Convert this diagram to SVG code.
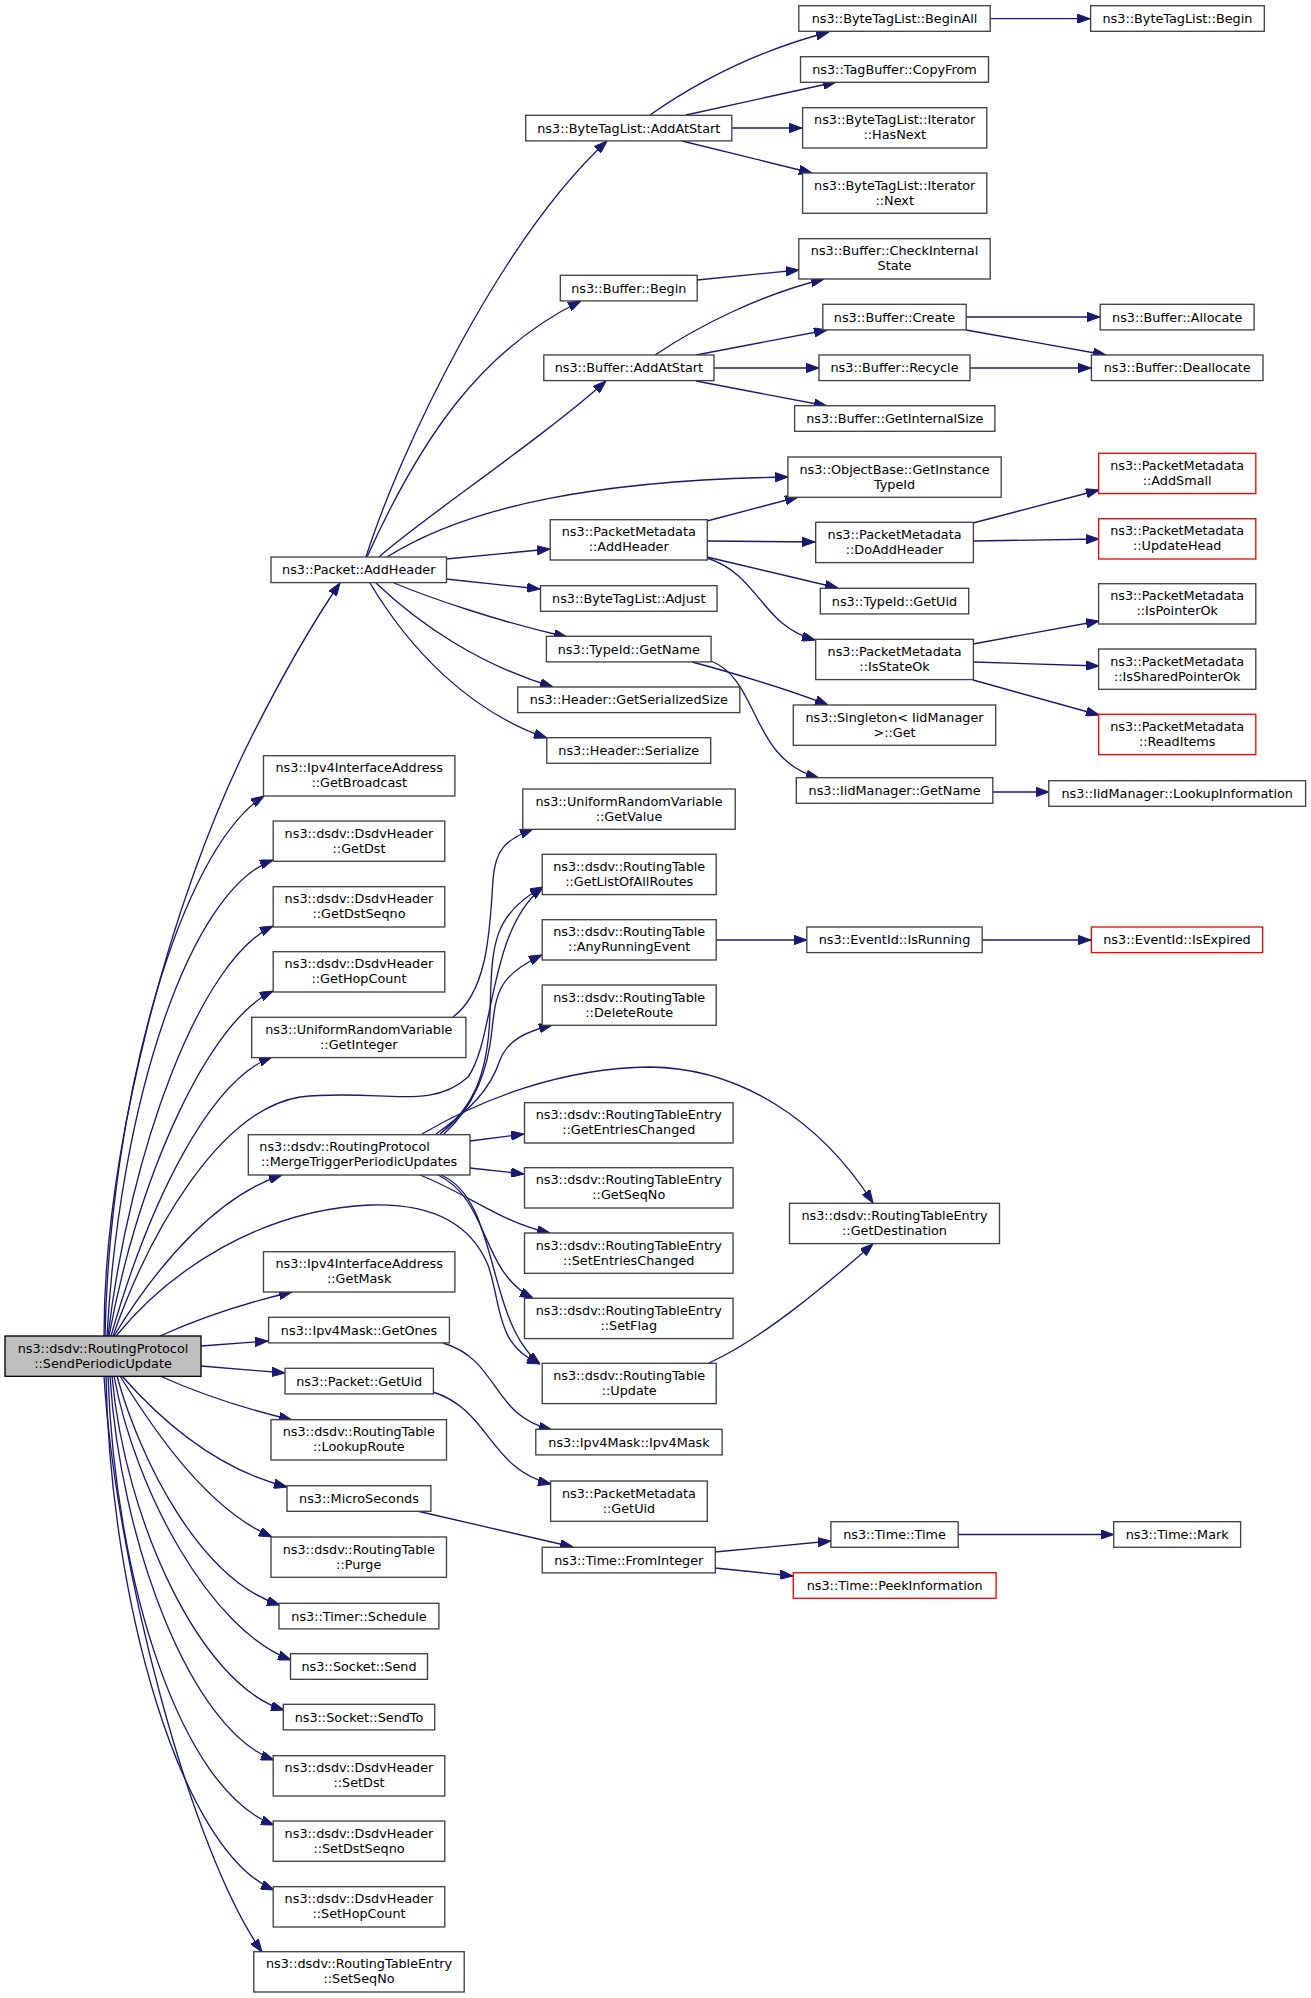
<svg xmlns="http://www.w3.org/2000/svg" width="1311" height="1998" viewBox="0 0 1311 1998">
<style>
.n rect{fill:#fff;stroke:#404040;stroke-width:1.33}
.n.r rect{stroke:#ff0000}
.n.root rect{fill:#bfbfbf;stroke:#000}
text{font-family:"DejaVu Sans","Liberation Sans",sans-serif;font-size:12.8px;text-anchor:middle;fill:#000}
text.l{text-anchor:start}
#edges path{fill:none;stroke:#191970;stroke-width:1.33;marker-end:url(#a)}
</style>
<defs>
<marker id="a" markerUnits="userSpaceOnUse" viewBox="0 0 13 9.4" refX="13" refY="4.7" markerWidth="13" markerHeight="9.4" orient="auto">
<path d="M0,0 L13,4.7 L0,9.4 z" fill="#191970" stroke="#191970" stroke-width="1"/>
</marker>
</defs>
<rect width="1311" height="1998" fill="#fff"/>
<g id="edges">
<path d="M104,1336 C104,1150 170,900 250,740 C290,660 318,615 340,583"/>
<path d="M105,1336 C110,1100 180,850 264,796"/>
<path d="M107,1336 C120,1100 190,890 273,860"/>
<path d="M108,1336 C130,1150 200,960 273,926"/>
<path d="M109,1336 C140,1170 210,1020 273,991"/>
<path d="M111,1336 C150,1200 210,1080 272,1057"/>
<path d="M113,1336 C150,1230 220,1110 300,1097 C380,1088 430,1112 468,1077 C495,1040 488,930 543,887"/>
<path d="M114,1336 C160,1260 220,1195 282,1175"/>
<path d="M116,1336 C170,1270 260,1210 370,1205 C430,1203 470,1222 488,1265 C502,1305 495,1345 540,1364"/>
<path d="M160,1336 C200,1318 245,1303 292,1292"/>
<path d="M201,1346 L268,1341"/>
<path d="M201,1366 L285,1373"/>
<path d="M160,1376 C200,1394 250,1410 292,1420"/>
<path d="M122,1376 C165,1425 220,1470 287,1487"/>
<path d="M120,1376 C160,1440 210,1510 272,1537"/>
<path d="M117,1376 C140,1460 200,1580 280,1605"/>
<path d="M114,1376 C135,1490 210,1630 291,1660"/>
<path d="M112,1376 C125,1520 200,1685 284,1710"/>
<path d="M110,1376 C120,1540 190,1730 274,1760"/>
<path d="M108,1376 C115,1580 180,1790 274,1825"/>
<path d="M106,1376 C110,1600 180,1850 274,1890"/>
<path d="M104,1376 C115,1560 190,1850 262,1952"/>
<path d="M366,557 C400,450 500,240 607,141"/>
<path d="M367,557 C420,440 480,350 581,301"/>
<path d="M379,557 C420,520 540,440 606,381"/>
<path d="M387,557 C470,505 600,480 788,477"/>
<path d="M446,559 L550,549"/>
<path d="M446,579 L540,589"/>
<path d="M394,583 C430,598 500,622 567,637"/>
<path d="M376,583 C420,625 480,665 553,687"/>
<path d="M370,583 C410,650 470,712 547,738"/>
<path d="M650,115 C700,80 760,50 829,32"/>
<path d="M686,115 L836,82"/>
<path d="M732,128 L802,128"/>
<path d="M682,141 L812,173"/>
<path d="M990,18.7 L1090,18.7"/>
<path d="M697,280 L799,270"/>
<path d="M655,355 C700,325 760,295 824,279"/>
<path d="M696,355 L827,330"/>
<path d="M714,368 L819,368"/>
<path d="M696,381 L827,406"/>
<path d="M966,317 L1100,317"/>
<path d="M966,330 L1106,355"/>
<path d="M970,368 L1091,368"/>
<path d="M707,521 L798,497"/>
<path d="M707,541 L815,542"/>
<path d="M707,557 L838,588"/>
<path d="M707,558 C760,575 760,625 815,640"/>
<path d="M973,523 L1099,490"/>
<path d="M973,541 L1099,539"/>
<path d="M973,644 L1099,621"/>
<path d="M973,662 L1099,666"/>
<path d="M973,680 L1099,715"/>
<path d="M692,662 C730,672 790,690 828,705"/>
<path d="M711,661 C760,680 750,760 819,778"/>
<path d="M993,792 L1049,792"/>
<path d="M453,1017 C490,990 490,920 493,880 C495,850 505,840 533,829"/>
<path d="M440,1134 C470,1110 488,1080 490,1013 C492,950 490,915 543,887"/>
<path d="M444,1134 C475,1105 488,1070 492,1030 C496,990 500,975 542,955"/>
<path d="M436,1134 C470,1110 490,1090 500,1060 C508,1040 525,1032 552,1025"/>
<path d="M422,1134 C480,1100 560,1068 650,1067 C740,1068 820,1120 873,1203"/>
<path d="M470,1141 L524,1134"/>
<path d="M470,1168 L524,1174"/>
<path d="M420,1175 C470,1195 500,1222 550,1233"/>
<path d="M438,1175 C490,1200 480,1272 533,1298"/>
<path d="M441,1175 C500,1200 485,1320 540,1364"/>
<path d="M709,1363 C760,1340 820,1290 873,1244"/>
<path d="M443,1343 C500,1360 490,1415 552,1430"/>
<path d="M433,1392 C490,1410 490,1470 551,1484"/>
<path d="M417,1511 L573,1547"/>
<path d="M715,1552 L831,1541"/>
<path d="M715,1568 L793,1576"/>
<path d="M958,1534.5 L1113.7,1534.5"/>
<path d="M716,940 L807,940"/>
<path d="M982,940 L1091,940"/>
</g>
<g id="n1" class="n root"><rect x="5" y="1336" width="196" height="40.3"/><text x="103" y="1352.75">ns3::dsdv::RoutingProtocol</text><text x="103" y="1367.75">::SendPeriodicUpdate</text></g>
<g id="n2" class="n"><rect x="271" y="557" width="175.5" height="25.6"/><text x="358.75" y="574.4">ns3::Packet::AddHeader</text></g>
<g id="n3" class="n"><rect x="525.7" y="115.3" width="206.1" height="25.6"/><text x="628.75" y="132.7">ns3::ByteTagList::AddAtStart</text></g>
<g id="n4" class="n"><rect x="798.8" y="5.7" width="191.4" height="25.6"/><text x="894.5" y="23.1">ns3::ByteTagList::BeginAll</text></g>
<g id="n5" class="n"><rect x="1090.6" y="5.7" width="173.7" height="25.6"/><text x="1177.45" y="23.1">ns3::ByteTagList::Begin</text></g>
<g id="n6" class="n"><rect x="800.5" y="56.7" width="188" height="25.6"/><text x="894.5" y="74.1">ns3::TagBuffer::CopyFrom</text></g>
<g id="n7" class="n"><rect x="802.6" y="107.7" width="184.2" height="40.3"/><text x="894.7" y="124.45">ns3::ByteTagList::Iterator</text><text x="894.7" y="139.45">::HasNext</text></g>
<g id="n8" class="n"><rect x="802.6" y="173" width="184.2" height="40.3"/><text x="894.7" y="189.75">ns3::ByteTagList::Iterator</text><text x="894.7" y="204.75">::Next</text></g>
<g id="n9" class="n"><rect x="560.3" y="275.3" width="136.9" height="25.6"/><text x="628.75" y="292.7">ns3::Buffer::Begin</text></g>
<g id="n10" class="n"><rect x="798.8" y="238.7" width="191.4" height="40.3"/><text x="894.5" y="255.45">ns3::Buffer::CheckInternal</text><text x="894.5" y="270.45">State</text></g>
<g id="n11" class="n"><rect x="543.8" y="355" width="170.2" height="25.6"/><text x="628.9" y="372.4">ns3::Buffer::AddAtStart</text></g>
<g id="n12" class="n"><rect x="822.8" y="304.3" width="143.4" height="25.6"/><text x="894.5" y="321.7">ns3::Buffer::Create</text></g>
<g id="n13" class="n"><rect x="1100.2" y="304.3" width="153.9" height="25.6"/><text x="1177.15" y="321.7">ns3::Buffer::Allocate</text></g>
<g id="n14" class="n"><rect x="819" y="355" width="151" height="25.6"/><text x="894.5" y="372.4">ns3::Buffer::Recycle</text></g>
<g id="n15" class="n"><rect x="1091.4" y="355" width="171.6" height="25.6"/><text x="1177.2" y="372.4">ns3::Buffer::Deallocate</text></g>
<g id="n16" class="n"><rect x="794.6" y="405.7" width="200.3" height="25.6"/><text x="894.75" y="423.1">ns3::Buffer::GetInternalSize</text></g>
<g id="n17" class="n"><rect x="787.9" y="457" width="213.3" height="40.3"/><text x="894.55" y="473.75">ns3::ObjectBase::GetInstance</text><text x="894.55" y="488.75">TypeId</text></g>
<g id="n18" class="n r"><rect x="1098.6" y="453.3" width="157.2" height="40.3"/><text x="1177.2" y="470.05">ns3::PacketMetadata</text><text x="1177.2" y="485.05">::AddSmall</text></g>
<g id="n19" class="n"><rect x="550.2" y="519.7" width="157.1" height="40.3"/><text x="628.75" y="536.45">ns3::PacketMetadata</text><text x="628.75" y="551.45">::AddHeader</text></g>
<g id="n20" class="n"><rect x="815.7" y="522.3" width="157.7" height="40.3"/><text x="894.55" y="539.05">ns3::PacketMetadata</text><text x="894.55" y="554.05">::DoAddHeader</text></g>
<g id="n21" class="n r"><rect x="1098.6" y="518.7" width="157.2" height="40.3"/><text x="1177.2" y="535.45">ns3::PacketMetadata</text><text x="1177.2" y="550.45">::UpdateHead</text></g>
<g id="n22" class="n"><rect x="540.5" y="585.7" width="176.5" height="25.6"/><text x="628.75" y="603.1">ns3::ByteTagList::Adjust</text></g>
<g id="n23" class="n"><rect x="820.3" y="588.3" width="148.4" height="25.6"/><text x="894.5" y="605.7">ns3::TypeId::GetUid</text></g>
<g id="n24" class="n"><rect x="1098.6" y="583.7" width="157.2" height="40.3"/><text x="1177.2" y="600.45">ns3::PacketMetadata</text><text x="1177.2" y="615.45">::IsPointerOk</text></g>
<g id="n25" class="n"><rect x="546.4" y="636.3" width="164.7" height="25.6"/><text x="628.75" y="653.7">ns3::TypeId::GetName</text></g>
<g id="n26" class="n"><rect x="815.7" y="639.3" width="157.7" height="40.3"/><text x="894.55" y="656.05">ns3::PacketMetadata</text><text x="894.55" y="671.05">::IsStateOk</text></g>
<g id="n27" class="n"><rect x="1098.6" y="649" width="157.2" height="40.3"/><text x="1177.2" y="665.75">ns3::PacketMetadata</text><text x="1177.2" y="680.75">::IsSharedPointerOk</text></g>
<g id="n28" class="n"><rect x="517.7" y="687" width="222.1" height="25.6"/><text x="628.75" y="704.4">ns3::Header::GetSerializedSize</text></g>
<g id="n29" class="n"><rect x="793.3" y="705" width="202.4" height="40.3"/><text x="894.5" y="721.75">ns3::Singleton&lt; IidManager</text><text x="894.5" y="736.75">&gt;::Get</text></g>
<g id="n30" class="n r"><rect x="1098.6" y="714.3" width="157.2" height="40.3"/><text x="1177.2" y="731.05">ns3::PacketMetadata</text><text x="1177.2" y="746.05">::ReadItems</text></g>
<g id="n31" class="n"><rect x="546.8" y="737.7" width="163.9" height="25.6"/><text x="628.75" y="755.1">ns3::Header::Serialize</text></g>
<g id="n32" class="n"><rect x="796.3" y="777.7" width="196.5" height="25.6"/><text x="894.55" y="795.1">ns3::IidManager::GetName</text></g>
<g id="n33" class="n"><rect x="1048.8" y="780.7" width="256.8" height="25.6"/><text x="1177.2" y="798.1">ns3::IidManager::LookupInformation</text></g>
<g id="n34" class="n"><rect x="263.5" y="755.7" width="191.4" height="40.3"/><text x="359.2" y="772.45">ns3::Ipv4InterfaceAddress</text><text x="359.2" y="787.45">::GetBroadcast</text></g>
<g id="n35" class="n"><rect x="522.8" y="789" width="212.4" height="40.3"/><text x="629" y="805.75">ns3::UniformRandomVariable</text><text x="629" y="820.75">::GetValue</text></g>
<g id="n36" class="n"><rect x="273.2" y="821" width="171.6" height="40.3"/><text x="359" y="837.75">ns3::dsdv::DsdvHeader</text><text x="359" y="852.75">::GetDst</text></g>
<g id="n37" class="n"><rect x="542.2" y="854.3" width="174" height="40.3"/><text x="629.2" y="871.05">ns3::dsdv::RoutingTable</text><text x="629.2" y="886.05">::GetListOfAllRoutes</text></g>
<g id="n38" class="n"><rect x="273.2" y="886.7" width="171.6" height="40.3"/><text x="359" y="903.45">ns3::dsdv::DsdvHeader</text><text x="359" y="918.45">::GetDstSeqno</text></g>
<g id="n39" class="n"><rect x="542.2" y="919.7" width="174" height="40.3"/><text x="629.2" y="936.45">ns3::dsdv::RoutingTable</text><text x="629.2" y="951.45">::AnyRunningEvent</text></g>
<g id="n40" class="n"><rect x="806.8" y="927" width="175.4" height="25.6"/><text x="894.5" y="944.4">ns3::EventId::IsRunning</text></g>
<g id="n41" class="n r"><rect x="1091.4" y="927" width="171.2" height="25.6"/><text x="1177" y="944.4">ns3::EventId::IsExpired</text></g>
<g id="n42" class="n"><rect x="273.2" y="951.7" width="171.6" height="40.3"/><text x="359" y="968.45">ns3::dsdv::DsdvHeader</text><text x="359" y="983.45">::GetHopCount</text></g>
<g id="n43" class="n"><rect x="542.2" y="985" width="174" height="40.3"/><text x="629.2" y="1001.75">ns3::dsdv::RoutingTable</text><text x="629.2" y="1016.75">::DeleteRoute</text></g>
<g id="n44" class="n"><rect x="251.7" y="1017.3" width="214.2" height="40.3"/><text x="358.8" y="1034.05">ns3::UniformRandomVariable</text><text x="358.8" y="1049.05">::GetInteger</text></g>
<g id="n45" class="n"><rect x="524.5" y="1102.7" width="208.5" height="40.3"/><text x="628.75" y="1119.45">ns3::dsdv::RoutingTableEntry</text><text x="628.75" y="1134.45">::GetEntriesChanged</text></g>
<g id="n46" class="n"><rect x="248.3" y="1134.7" width="221.7" height="40.3"/><text class="l" x="259.3" y="1151.45">ns3::dsdv::RoutingProtocol</text><text x="359.15" y="1166.45">::MergeTriggerPeriodicUpdates</text></g>
<g id="n47" class="n"><rect x="524.5" y="1167.7" width="208.5" height="40.3"/><text x="628.75" y="1184.45">ns3::dsdv::RoutingTableEntry</text><text x="628.75" y="1199.45">::GetSeqNo</text></g>
<g id="n48" class="n"><rect x="789.5" y="1203.3" width="210" height="40.3"/><text x="894.5" y="1220.05">ns3::dsdv::RoutingTableEntry</text><text x="894.5" y="1235.05">::GetDestination</text></g>
<g id="n49" class="n"><rect x="524.5" y="1233" width="208.5" height="40.3"/><text x="628.75" y="1249.75">ns3::dsdv::RoutingTableEntry</text><text x="628.75" y="1264.75">::SetEntriesChanged</text></g>
<g id="n50" class="n"><rect x="263.5" y="1251.7" width="191.4" height="40.3"/><text x="359.2" y="1268.45">ns3::Ipv4InterfaceAddress</text><text x="359.2" y="1283.45">::GetMask</text></g>
<g id="n51" class="n"><rect x="524.5" y="1298.3" width="208.5" height="40.3"/><text x="628.75" y="1315.05">ns3::dsdv::RoutingTableEntry</text><text x="628.75" y="1330.05">::SetFlag</text></g>
<g id="n52" class="n"><rect x="268.6" y="1317.3" width="180.8" height="25.6"/><text x="359" y="1334.7">ns3::Ipv4Mask::GetOnes</text></g>
<g id="n53" class="n"><rect x="542.2" y="1363.3" width="174" height="40.3"/><text x="629.2" y="1380.05">ns3::dsdv::RoutingTable</text><text x="629.2" y="1395.05">::Update</text></g>
<g id="n54" class="n"><rect x="285" y="1368.3" width="148.4" height="25.6"/><text x="359.2" y="1385.7">ns3::Packet::GetUid</text></g>
<g id="n55" class="n"><rect x="271" y="1419.7" width="175.5" height="40.3"/><text x="358.75" y="1436.45">ns3::dsdv::RoutingTable</text><text x="358.75" y="1451.45">::LookupRoute</text></g>
<g id="n56" class="n"><rect x="535.8" y="1429.3" width="186.3" height="25.6"/><text x="628.95" y="1446.7">ns3::Ipv4Mask::Ipv4Mask</text></g>
<g id="n57" class="n"><rect x="550.6" y="1481" width="156.7" height="40.3"/><text x="628.95" y="1497.75">ns3::PacketMetadata</text><text x="628.95" y="1512.75">::GetUid</text></g>
<g id="n58" class="n"><rect x="287" y="1485.7" width="143.9" height="25.6"/><text x="358.95" y="1503.1">ns3::MicroSeconds</text></g>
<g id="n59" class="n"><rect x="830.9" y="1521.7" width="127.3" height="25.6"/><text x="894.55" y="1539.1">ns3::Time::Time</text></g>
<g id="n60" class="n"><rect x="1113.7" y="1521.7" width="126.9" height="25.6"/><text x="1177.15" y="1539.1">ns3::Time::Mark</text></g>
<g id="n61" class="n"><rect x="542.2" y="1547.3" width="173.1" height="25.6"/><text x="628.75" y="1564.7">ns3::Time::FromInteger</text></g>
<g id="n62" class="n"><rect x="271" y="1537" width="175.5" height="40.3"/><text x="358.75" y="1553.75">ns3::dsdv::RoutingTable</text><text x="358.75" y="1568.75">::Purge</text></g>
<g id="n63" class="n r"><rect x="793.3" y="1572.7" width="202.8" height="25.6"/><text x="894.7" y="1590.1">ns3::Time::PeekInformation</text></g>
<g id="n64" class="n"><rect x="279" y="1603.3" width="159.9" height="25.6"/><text x="358.95" y="1620.7">ns3::Timer::Schedule</text></g>
<g id="n65" class="n"><rect x="290.5" y="1653.7" width="137" height="25.6"/><text x="359" y="1671.1">ns3::Socket::Send</text></g>
<g id="n66" class="n"><rect x="283.3" y="1704.3" width="151.4" height="25.6"/><text x="359" y="1721.7">ns3::Socket::SendTo</text></g>
<g id="n67" class="n"><rect x="273.2" y="1755.7" width="171.6" height="40.3"/><text x="359" y="1772.45">ns3::dsdv::DsdvHeader</text><text x="359" y="1787.45">::SetDst</text></g>
<g id="n68" class="n"><rect x="273.2" y="1821" width="171.6" height="40.3"/><text x="359" y="1837.75">ns3::dsdv::DsdvHeader</text><text x="359" y="1852.75">::SetDstSeqno</text></g>
<g id="n69" class="n"><rect x="273.2" y="1886.7" width="171.6" height="40.3"/><text x="359" y="1903.45">ns3::dsdv::DsdvHeader</text><text x="359" y="1918.45">::SetHopCount</text></g>
<g id="n70" class="n"><rect x="253.8" y="1951.7" width="210.4" height="40.3"/><text x="359" y="1968.45">ns3::dsdv::RoutingTableEntry</text><text x="359" y="1983.45">::SetSeqNo</text></g>
</svg>
